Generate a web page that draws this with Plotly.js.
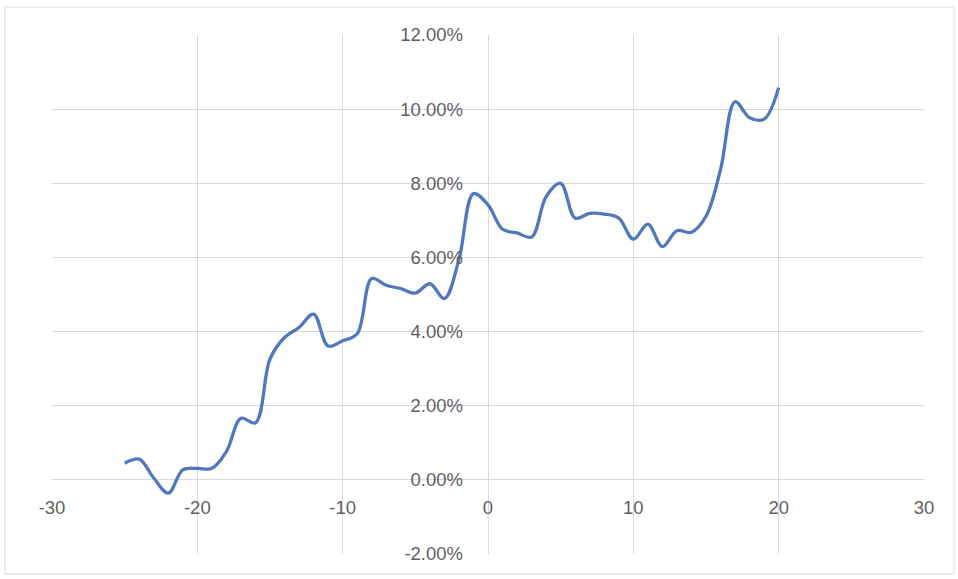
<!DOCTYPE html>
<html>
<head>
<meta charset="utf-8">
<script src="https://cdn.plot.ly/plotly-3.0.1.min.js"></script>
<style>
html,body{margin:0;padding:0;background:#fff;}
#chart{width:958px;height:579px;}
</style>
</head>
<body>
<div id="chart"></div>
<script>
var xValues = [-25,-24,-23,-22,-21,-20,-19,-18,-17,-16,-15,-14,-13,-12,-11,-10,-9,-8,-7,-6,-5,-4,-3,-2,-1,0,1,2,3,4,5,6,7,8,9,10,11,12,13,14,15,16,17,18,19,20];
var yPercent = [0.45,0.56,0.05,-0.36,0.27,0.31,0.31,0.76,1.66,1.54,3.26,3.84,4.11,4.47,3.61,3.75,3.94,5.43,5.25,5.16,5.04,5.29,4.89,5.94,7.72,7.42,6.76,6.66,6.55,7.64,8.0,7.06,7.19,7.17,7.06,6.49,6.9,6.29,6.72,6.68,7.11,8.37,10.2,9.77,9.73,10.58];
var yValues = yPercent.map(function(v){return v/100;});

var xTickVals = [-30,-20,-10,0,10,20,30];
var xTickText = ['-30','-20','-10','0','10','20','30'];
var yTickVals = [-0.02,0,0.02,0.04,0.06,0.08,0.10,0.12];
var yTickText = ['-2.00%','0.00%','2.00%','4.00%','6.00%','8.00%','10.00%','12.00%'];

var fontFam = '"Liberation Sans", Arial, sans-serif';
var gridColor = '#D9D9D9';
var textColor = '#5F5F5F';

var trace = {
  x: xValues,
  y: yValues,
  type: 'scatter',
  mode: 'lines',
  line: {color: '#5078BE', width: 3.3, shape: 'spline', smoothing: 1},
  hoverinfo: 'x+y'
};

var layout = {
  width: 958,
  height: 579,
  margin: {l: 52, r: 34, t: 35, b: 25, pad: 0},
  paper_bgcolor: '#fff',
  plot_bgcolor: '#fff',
  showlegend: false,
  font: {family: fontFam, size: 18.5, color: textColor},
  xaxis: {
    range: [-30, 30],
    tickmode: 'array',
    tickvals: xTickVals,
    ticktext: xTickText,
    showgrid: true,
    gridcolor: gridColor,
    gridwidth: 1,
    zeroline: false,
    showline: false,
    anchor: 'free',
    position: 2/14,
    ticks: '',
    ticklabelstandoff: 15,
    tickfont: {family: fontFam, size: 18.5, color: textColor},
    fixedrange: true
  },
  yaxis: {
    range: [-0.02, 0.12],
    tickmode: 'array',
    tickvals: yTickVals,
    ticktext: yTickText,
    showgrid: true,
    gridcolor: gridColor,
    gridwidth: 1,
    zeroline: false,
    showline: false,
    anchor: 'free',
    position: 0.5,
    ticks: '',
    ticklabelstandoff: 25,
    tickfont: {family: fontFam, size: 18.5, color: textColor},
    fixedrange: true
  },
  shapes: [
    {type: 'rect', xref: 'paper', yref: 'paper',
     x0: (5-52)/872, x1: (954-52)/872, y0: -(574-554)/519, y1: 1 + (35-7)/519,
     line: {color: '#D9D9D9', width: 1}, fillcolor: 'rgba(0,0,0,0)', layer: 'below'}
  ]
};

Plotly.newPlot('chart', [trace], layout, {displayModeBar: false, staticPlot: true});
</script>
</body>
</html>
